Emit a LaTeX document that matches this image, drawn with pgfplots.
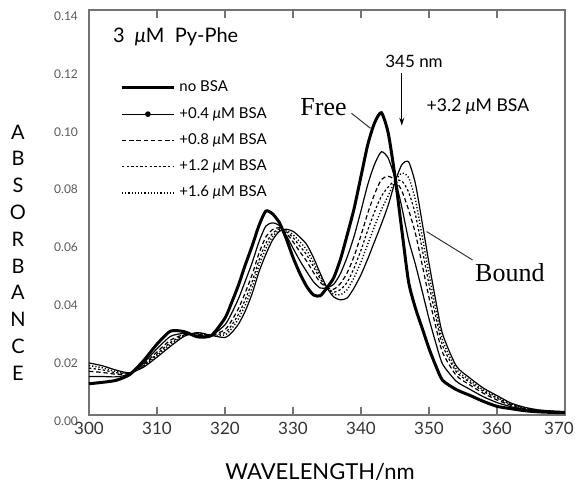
\documentclass[border=0pt]{standalone}
\usepackage{fontspec}
\setmainfont{Lato}
\newfontfamily\serif{Liberation Serif}
\usepackage{pgfplots}
\usepackage{pgfplotstable}
\pgfplotsset{compat=1.18}
\usetikzlibrary{arrows.meta}

% columns: wavelength, no BSA, +0.4, +0.8, +1.2, +1.6, +3.2 uM BSA
\pgfplotstableread{
x    F      a      b      c      d      B
300  0.0108 0.0133 0.0151 0.0162 0.0171 0.0180
302  0.0113 0.0133 0.0147 0.0156 0.0163 0.0170
304  0.0120 0.0132 0.0141 0.0146 0.0150 0.0155
306  0.0140 0.0142 0.0144 0.0145 0.0145 0.0146
308  0.0187 0.0179 0.0174 0.0171 0.0168 0.0165
310  0.0245 0.0229 0.0218 0.0211 0.0206 0.0200
312  0.0290 0.0272 0.0259 0.0251 0.0245 0.0238
314  0.0288 0.0282 0.0278 0.0276 0.0274 0.0272
316  0.0270 0.0275 0.0279 0.0281 0.0283 0.0285
318  0.0275 0.0275 0.0275 0.0275 0.0275 0.0275
320  0.0335 0.0312 0.0295 0.0285 0.0277 0.0268
321  0.0390 0.0353 0.0327 0.0311 0.0299 0.0285
322  0.0450 0.0403 0.0369 0.0349 0.0333 0.0315
323  0.0520 0.0464 0.0424 0.0400 0.0381 0.0360
324  0.0585 0.0527 0.0486 0.0461 0.0441 0.0420
325  0.0655 0.0599 0.0559 0.0535 0.0516 0.0495
326  0.0705 0.0653 0.0615 0.0593 0.0575 0.0555
327  0.0695 0.0664 0.0641 0.0628 0.0617 0.0605
328  0.0665 0.0655 0.0647 0.0643 0.0639 0.0635
329  0.0610 0.0621 0.0629 0.0634 0.0638 0.0642
330  0.0545 0.0577 0.0599 0.0613 0.0623 0.0635
331  0.0490 0.0534 0.0565 0.0584 0.0599 0.0615
332  0.0445 0.0496 0.0532 0.0554 0.0571 0.0590
333  0.0415 0.0461 0.0493 0.0513 0.0528 0.0545
334  0.0412 0.0439 0.0459 0.0471 0.0480 0.0490
335  0.0440 0.0440 0.0440 0.0440 0.0440 0.0440
336  0.0475 0.0452 0.0435 0.0425 0.0417 0.0408
337  0.0540 0.0490 0.0455 0.0434 0.0416 0.0398
338  0.0625 0.0548 0.0493 0.0460 0.0434 0.0405
339  0.0715 0.0619 0.0550 0.0509 0.0476 0.0440
340  0.0825 0.0706 0.0621 0.0570 0.0529 0.0485
341  0.0935 0.0797 0.0698 0.0639 0.0591 0.0540
342  0.1010 0.0867 0.0764 0.0703 0.0653 0.0600
343  0.1045 0.0910 0.0814 0.0756 0.0710 0.0660
344  0.0975 0.0888 0.0825 0.0788 0.0758 0.0725
345  0.0825 0.0818 0.0813 0.0810 0.0808 0.0805
346  0.0640 0.0719 0.0775 0.0809 0.0836 0.0865
347  0.0460 0.0605 0.0709 0.0771 0.0821 0.0875
348  0.0370 0.0521 0.0628 0.0693 0.0744 0.0800
349  0.0300 0.0428 0.0519 0.0574 0.0618 0.0665
350  0.0230 0.0333 0.0407 0.0451 0.0487 0.0525
351  0.0170 0.0249 0.0305 0.0339 0.0366 0.0395
352  0.0120 0.0176 0.0216 0.0240 0.0259 0.0280
354  0.0088 0.0117 0.0137 0.0150 0.0159 0.0170
356  0.0068 0.0089 0.0104 0.0113 0.0120 0.0128
358  0.0047 0.0063 0.0075 0.0082 0.0087 0.0093
360  0.0030 0.0043 0.0052 0.0058 0.0062 0.0067
362  0.0022 0.0029 0.0034 0.0037 0.0039 0.0042
364  0.0015 0.0019 0.0022 0.0024 0.0025 0.0027
366  0.0011 0.0013 0.0015 0.0016 0.0017 0.0018
368  0.0009 0.0011 0.0012 0.0013 0.0013 0.0014
370  0.0008 0.0009 0.0010 0.0011 0.0011 0.0012
}\spectra

\begin{document}
\begin{tikzpicture}
\begin{axis}[
  at={(0,0)}, anchor=south west,
  scale only axis, width=238pt, height=202.5pt,
  xmin=300, xmax=370, ymin=0, ymax=0.14,
  xtick={300,310,...,370},
  xticklabels={300,310,320,330,340,350,360,\hspace*{-6pt}370},
  ytick={0,0.02,0.04,0.06,0.08,0.10,0.12,0.14},
  xtick pos=both, tick align=inside,
  major tick length=4pt,
  ytick style={draw=none},
  axis line style={black!55, line width=0.6pt},
  xtick style={black!55, line width=0.6pt},
  /pgf/number format/assume math mode=true,
  xticklabel style={font=\fontsize{8.5}{9}\selectfont, text=black!80},
  yticklabel style={/pgf/number format/fixed, /pgf/number format/fixed zerofill,
    /pgf/number format/precision=2, font=\fontsize{6}{7}\selectfont,
    text=black!65, xshift=-2pt, yshift=-3pt},
  legend style={at={(axis cs:304.56,0.1170)}, anchor=north west, draw=none,
    fill=none, inner sep=0pt, row sep=2.2pt,
    font=\fontsize{7.5}{8.5}\selectfont, cells={anchor=west}},
  legend image code/.code={\draw[#1] (0pt,0pt) -- (26pt,0pt);},
  every axis plot/.append style={black, smooth, tension=0.4},
  clip=true,
]
\addplot[line width=1.5pt] table[x=x,y=F] {\spectra};
\addlegendentry{no BSA}
\addplot[line width=0.6pt,
  legend image code/.code={\draw[black, line width=0.6pt] (0pt,0pt) -- (26pt,0pt); \fill[black] (13pt,0pt) circle (1.1pt);}]
  table[x=x,y=a] {\spectra};
\addlegendentry{+0.4 \textit{μ}M BSA}
\addplot[line width=0.6pt, dash pattern=on 2.2pt off 1.4pt] table[x=x,y=b] {\spectra};
\addlegendentry{+0.8 \textit{μ}M BSA}
\addplot[line width=0.6pt, dash pattern=on 1.2pt off 1.1pt] table[x=x,y=c] {\spectra};
\addlegendentry{+1.2 \textit{μ}M BSA}
\addplot[line width=0.7pt, dash pattern=on 0.6pt off 1pt] table[x=x,y=d] {\spectra};
\addlegendentry{+1.6 \textit{μ}M BSA}
\addplot[line width=0.6pt, forget plot] table[x=x,y=B] {\spectra};

\node[anchor=west, font=\fontsize{10}{11}\selectfont] at (axis cs:302.5,0.1307) {3\ \ \textit{μ}M\ \ Py-Phe};
\node[font=\fontsize{8.5}{9}\selectfont] at (axis cs:347.8,0.1222) {345 nm};
\draw[-{Stealth[length=4pt,width=2.5pt]}, line width=0.6pt] (axis cs:346.0,0.1182) -- (axis cs:346.0,0.1000);
\node[font=\fontsize{8.8}{9.5}\selectfont] at (axis cs:357.2,0.1066) {+3.2 \textit{μ}M BSA};
\node[font=\serif\fontsize{13}{14}\selectfont] at (axis cs:334.5,0.1066) {Free};
\draw[line width=0.5pt, black!80] (axis cs:338.6,0.1043) -- (axis cs:341.4,0.0991);
\node[font=\serif\fontsize{13}{14}\selectfont] at (axis cs:361.9,0.0491) {Bound};
\draw[line width=0.5pt, black!80] (axis cs:349.65,0.0634) -- (axis cs:356.4,0.0536);
\end{axis}
\node[align=center, inner sep=0pt, font=\fontsize{10}{13.4}\selectfont]
  at (-35.5pt,81.25pt) {A\\B\\S\\O\\R\\B\\A\\N\\C\\E};
\node[font=\fontsize{11}{12}\selectfont] at (115.5pt,-28.3pt) {WAVELENGTH/nm};
\pgfresetboundingbox
\path[use as bounding box] (-44.5pt,-34pt) rectangle (243pt,207.5pt);
\end{tikzpicture}
\end{document}
